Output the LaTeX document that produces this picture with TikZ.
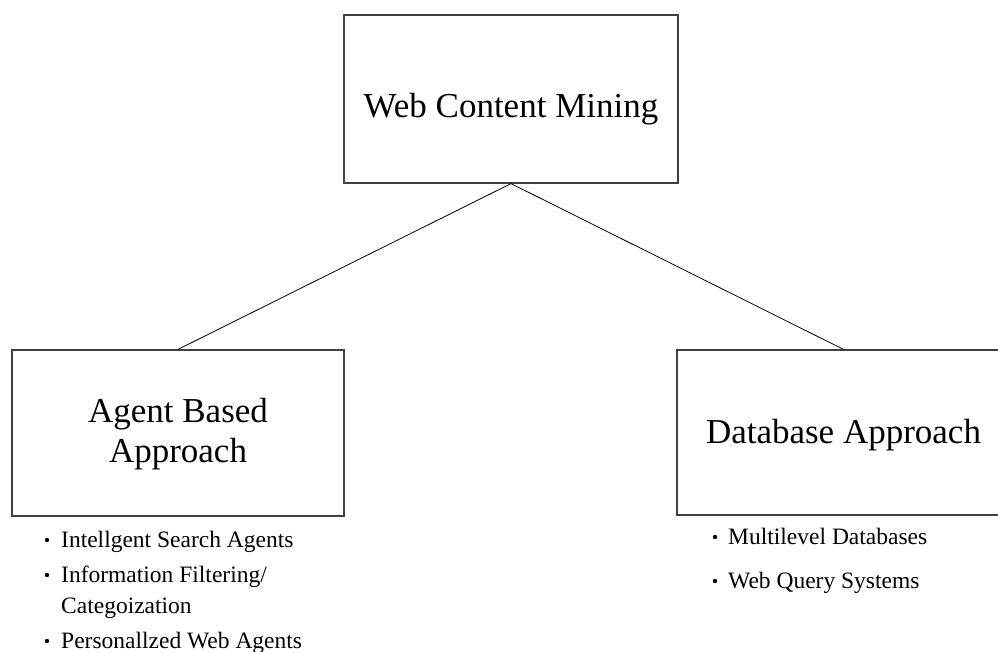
\documentclass[tikz,border=0pt]{standalone}
\usepackage{fontspec}
\setmainfont{Liberation Serif}
\begin{document}
\begin{tikzpicture}[x=1pt,y=-1pt,
  box/.style={draw=black!75, line width=1.2pt, rectangle, inner sep=0pt},
  title/.style={font=\fontsize{35}{40}\selectfont, anchor=base, inner sep=0pt},
  item/.style={font=\fontsize{23.5}{28}\selectfont, anchor=base west, inner sep=0pt},
  dot/.style={circle, fill=black, inner sep=0pt, minimum size=4.4pt},
  link/.style={draw=black, line width=0.8pt}]
\useasboundingbox (0,0) rectangle (998,652);
\clip (0,0) rectangle (998,652);

% boxes
\node[box, minimum width=334pt, minimum height=168pt] (top) at (511,99) {};
\node[box, minimum width=332pt, minimum height=166pt] (agent) at (178,433) {};
\node[box, minimum width=333pt, minimum height=165pt] (db) at (843.5,432.5) {};

% box titles
\node[title] (topt) at (511,118) {Web Content Mining};
\node[title] (agentt1) at (178,422) {Agent Based};
\node[title] (agentt2) at (178,462) {Approach};
\node[title] (dbt) at (843.5,443) {Database Approach};

% connectors
\draw[link] (top.south) -- (agent.north);
\draw[link] (top.south) -- (db.north);

% agent based items
\node[dot] (b1) at (47,540) {};
\node[item] (i1) at (61,547) {Intellgent Search Agents};
\node[dot] (b2) at (47,575) {};
\node[item] (i2) at (61,582) {Information Filtering/};
\node[item] (i3) at (61,613) {Categoization};
\node[dot] (b4) at (47,641) {};
\node[item] (i4) at (61,648) {Personallzed Web Agents};

% database items
\node[dot] (d1) at (715,537) {};
\node[item] (j1) at (728,544) {Multilevel Databases};
\node[dot] (d2) at (715,581) {};
\node[item] (j2) at (728,588) {Web Query Systems};
\end{tikzpicture}
\end{document}
